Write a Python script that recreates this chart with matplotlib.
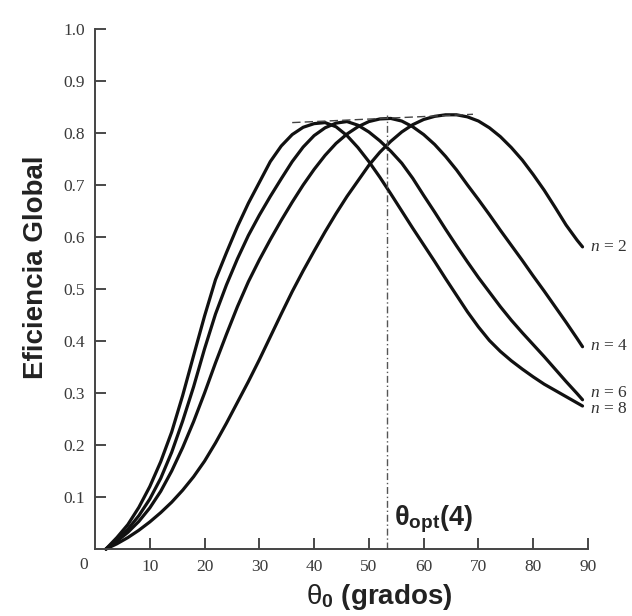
import matplotlib
matplotlib.use("Agg")
import matplotlib.pyplot as plt

plt.rcParams['mathtext.fontset'] = 'custom'
plt.rcParams['mathtext.rm'] = 'Liberation Sans'
plt.rcParams['mathtext.bf'] = 'Liberation Sans:bold'
plt.rcParams['mathtext.it'] = 'Liberation Serif:italic'

# ---- data (theta_0 in degrees, global efficiency) ----
x_n8 = [2, 4, 6, 8, 10, 12, 14, 16, 18, 20, 22, 24, 26, 28, 30, 32, 34, 36, 38, 40, 42, 44, 46, 48,
        50, 52, 54, 56, 58, 60, 62, 64, 66, 68, 70, 72, 74, 76, 78, 80, 82, 84, 86, 88, 89]
y_n8 = [0, 0.022, 0.047, 0.08, 0.12, 0.168, 0.225, 0.295, 0.372, 0.448, 0.518, 0.57, 0.62, 0.665,
        0.705, 0.745, 0.775, 0.797, 0.811, 0.818, 0.82, 0.812, 0.795, 0.772, 0.745, 0.715, 0.683,
        0.65, 0.617, 0.585, 0.553, 0.52, 0.488, 0.456, 0.427, 0.401, 0.38, 0.362, 0.346, 0.331,
        0.317, 0.305, 0.293, 0.281, 0.275]

x_n6 = [2, 4, 6, 8, 10, 12, 14, 16, 18, 20, 22, 24, 26, 28, 30, 32, 34, 36, 38, 40, 42, 44, 46, 48,
        50, 52, 54, 56, 58, 60, 62, 64, 66, 68, 70, 72, 74, 76, 78, 80, 82, 84, 86, 88, 89]
y_n6 = [0, 0.018, 0.038, 0.064, 0.096, 0.136, 0.186, 0.246, 0.312, 0.385, 0.452, 0.508, 0.558, 0.603,
        0.642, 0.678, 0.712, 0.745, 0.773, 0.795, 0.81, 0.819, 0.822, 0.815, 0.802, 0.785, 0.765,
        0.742, 0.713, 0.68, 0.648, 0.615, 0.583, 0.552, 0.522, 0.494, 0.466, 0.44, 0.416, 0.393,
        0.37, 0.346, 0.322, 0.299, 0.287]

x_n4 = [2, 4, 6, 8, 10, 12, 14, 16, 18, 20, 22, 24, 26, 28, 30, 32, 34, 36, 38, 40, 42, 44, 46, 48,
        50, 52, 54, 56, 58, 60, 62, 64, 66, 68, 70, 72, 74, 76, 78, 80, 82, 84, 86, 88, 89]
y_n4 = [0, 0.015, 0.032, 0.053, 0.079, 0.111, 0.15, 0.195, 0.245, 0.30, 0.358, 0.413, 0.466, 0.514,
        0.556, 0.595, 0.632, 0.667, 0.70, 0.73, 0.757, 0.78, 0.798, 0.812, 0.822, 0.827, 0.828,
        0.823, 0.812, 0.797, 0.778, 0.755, 0.729, 0.70, 0.672, 0.643, 0.613, 0.584, 0.555, 0.525,
        0.496, 0.466, 0.436, 0.405, 0.389]

x_n2 = [2, 4, 6, 8, 10, 12, 14, 16, 18, 20, 22, 24, 26, 28, 30, 32, 34, 36, 38, 40, 42, 44, 46, 48,
        50, 52, 54, 56, 58, 60, 62, 64, 66, 68, 70, 72, 74, 76, 78, 80, 82, 84, 86, 88, 89]
y_n2 = [0, 0.01, 0.022, 0.036, 0.052, 0.07, 0.09, 0.113, 0.139, 0.169, 0.204, 0.242, 0.282, 0.322,
        0.364, 0.408, 0.452, 0.495, 0.535, 0.573, 0.61, 0.645, 0.678, 0.708, 0.738, 0.763, 0.784,
        0.802, 0.816, 0.826, 0.832, 0.835, 0.835, 0.831, 0.823, 0.81, 0.793, 0.772, 0.748, 0.72,
        0.69, 0.657, 0.623, 0.594, 0.581]

curve_labels = ["2", "4", "6", "8"]
label_y = [0.58, 0.39, 0.30, 0.27]

x_ticks = [10, 20, 30, 40, 50, 60, 70, 80, 90]
y_ticks = [0.1, 0.2, 0.3, 0.4, 0.5, 0.6, 0.7, 0.8, 0.9, 1.0]
y_tick_labels = ["0.1", "0.2", "0.3", "0.4", "0.5", "0.6", "0.7", "0.8", "0.9", "1.0"]

theta_opt4 = 53.3
envelope_x = [36, 69]
envelope_y = [0.820, 0.836]

# ---- figure ----
fig = plt.figure(figsize=(6.32, 6.16), dpi=100)
ax = fig.add_axes([95/632, 1-549/616, (588-95)/632, (549-29)/616])
ax.set_xlim(0, 90)
ax.set_ylim(0, 1.0)

for xs, ys in [(x_n8, y_n8), (x_n6, y_n6), (x_n4, y_n4), (x_n2, y_n2)]:
    ax.plot(xs, ys, color='#111111', lw=2.3, solid_capstyle='round',
            solid_joinstyle='round', clip_on=False)

ax.plot(envelope_x, envelope_y, color='#444444', lw=1.0, ls=(0, (6, 3)))
ax.plot([theta_opt4, theta_opt4], [0, 0.835], color='#555555', lw=1.0, ls=(0, (5, 2, 1, 2)))

for lab, yv in zip(curve_labels, label_y):
    ax.text(90.4, yv, r'$n$ = ' + lab, fontsize=12.5, family='Liberation Serif',
            color='#333333', va='center', ha='left', clip_on=False)

ax.text(54.5, 0.058, r'θ$_{\mathbf{opt}}$(4)', fontsize=19.5, family='Liberation Sans',
        fontweight='bold', color='#222222', va='center', ha='left')

for s in ['top', 'right']:
    ax.spines[s].set_visible(False)
for s in ['left', 'bottom']:
    ax.spines[s].set_color('#444444')
    ax.spines[s].set_linewidth(1.4)

ax.set_xticks(x_ticks)
ax.set_xticklabels([str(t) for t in x_ticks])
ax.set_yticks(y_ticks)
ax.set_yticklabels(y_tick_labels)
ax.tick_params(direction='in', length=8, width=1.3, colors='#3a3a3a', labelsize=12.5)
ax.tick_params(axis='x', pad=7)
ax.tick_params(axis='y', pad=7)
for t in ax.get_xticklabels() + ax.get_yticklabels():
    t.set_family('Liberation Serif')
ax.text(-2, -0.0145, '0', fontsize=12.5, family='Liberation Serif', color='#3a3a3a',
        ha='center', va='top', transform=ax.transData)

fig.text(36/632, 1-267/616, 'Eficiencia Global', rotation=90, fontsize=20,
         family='Liberation Sans', fontweight='bold', color='#222222', ha='center', va='center')
fig.text(379/632, 1-597/616, r'$\mathrm{θ}_{\mathbf{0}}$ (grados)', fontsize=20,
         family='Liberation Sans', fontweight='bold', color='#222222', ha='center', va='center')

fig.savefig('out.png', dpi=100)
